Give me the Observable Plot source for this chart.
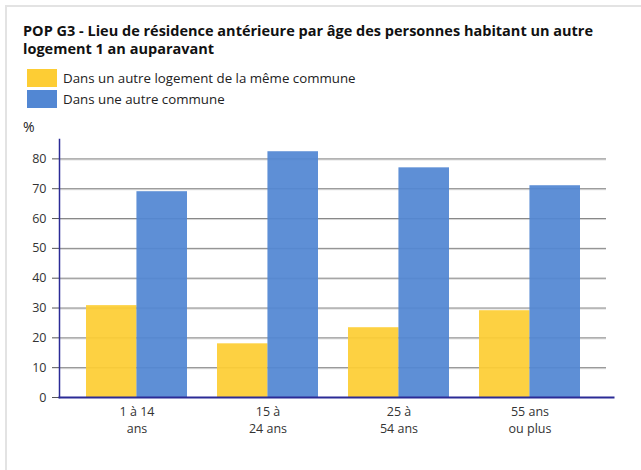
<!DOCTYPE html>
<html>
<head>
<meta charset="utf-8">
<script src="https://cdn.jsdelivr.net/npm/d3@7"></script>
<script src="https://cdn.jsdelivr.net/npm/@observablehq/plot@0.6"></script>
<style>
  html, body { margin: 0; padding: 0; background: #fff; }
  body { width: 641px; height: 470px; position: relative; overflow: hidden; font-family: "Open Sans", sans-serif; color: #222; }
  #frame { position: absolute; left: 5px; top: 5px; width: 700px; height: 520px; border-left: 2px solid #e3e3e3; border-top: 2px solid #e3e3e3; }
  #title { position: absolute; left: 23px; top: 22px; width: 600px; font-size: 14.5px; line-height: 17.5px; font-weight: bold; color: #111; }
  #legend { position: absolute; left: 27px; top: 69px; font-size: 13.3px; color: #222; }
  .row { display: flex; align-items: center; height: 18px; margin-bottom: 3px; }
  .sw { width: 30px; height: 18px; margin-right: 6px; }
  #unit { position: absolute; left: 23px; top: 117px; font-size: 14px; color: #222; }
  #chart { position: absolute; left: 0; top: 130px; }
</style>
</head>
<body>
<div id="frame"></div>
<div id="title">POP G3 - Lieu de résidence antérieure par âge des personnes habitant un autre logement 1 an auparavant</div>
<div id="legend"></div>
<div id="unit">%</div>
<div id="chart"></div>
<script>
const categories = ["1 à 14\nans", "15 à\n24 ans", "25 à\n54 ans", "55 ans\nou plus"];
const seriesNames = ["Dans un autre logement de la même commune", "Dans une autre commune"];
const sameCommune = [30.8, 18.0, 23.4, 29.1];
const otherCommune = [69.0, 82.4, 77.0, 71.0];
const colors = ["#fdcd34", "#5287d3"];
const yTicks = [0, 10, 20, 30, 40, 50, 60, 70, 80];

const legend = document.getElementById("legend");
seriesNames.forEach((name, i) => {
  const row = document.createElement("div");
  row.className = "row";
  const sw = document.createElement("span");
  sw.className = "sw";
  sw.style.background = colors[i];
  const t = document.createElement("span");
  t.textContent = name;
  row.appendChild(sw); row.appendChild(t);
  legend.appendChild(row);
});

const rows = categories.map((c, i) => ({cat: c, a: sameCommune[i], b: otherCommune[i]}));

const W = 641, ML = 59, MR = 28;
const rangeStart = 70.5, rangeEnd = 594.5;
const step = (rangeEnd - rangeStart) / categories.length;
const bw = step * (1 - 0.23);
const half = bw / 2;

const plot = Plot.plot({
  width: W,
  height: 320,
  marginLeft: ML,
  marginRight: MR,
  marginTop: 9,
  marginBottom: 53,
  style: {fontFamily: "Open Sans, sans-serif", fontSize: "12px", color: "#333", background: "transparent"},
  x: {domain: categories, range: [rangeStart, rangeEnd], paddingInner: 0.23, paddingOuter: 0.115, label: null},
  y: {domain: [0, 86.5], label: null},
  marks: [
    Plot.ruleY(yTicks.filter(d => d > 0), {stroke: "#d8d8d8", strokeWidth: 1, dy: 1, insetRight: 7}),
    Plot.ruleY(yTicks.filter(d => d > 0), {stroke: "#858585", strokeWidth: 1, insetRight: 7}),
    Plot.barY(rows, {x: "cat", y: "a", fill: colors[0], fillOpacity: 0.93, insetRight: half}),
    Plot.barY(rows, {x: "cat", y: "b", fill: colors[1], fillOpacity: 0.93, insetLeft: half}),
    Plot.axisY({ticks: yTicks, tickSize: 7, tickPadding: 6, stroke: "#555", fill: "#333", fontSize: 12.5, label: null}),
    Plot.axisX({tickSize: 0, tickPadding: 6, fill: "#333", fontSize: 12.5, label: null, lineHeight: 1.38}),
    Plot.frame({anchor: "left", stroke: "#2b2b96", strokeWidth: 1.5}),
    Plot.frame({anchor: "bottom", stroke: "#2b2b96", strokeWidth: 2})
  ]
});
document.getElementById("chart").appendChild(plot);
</script>
</body>
</html>
